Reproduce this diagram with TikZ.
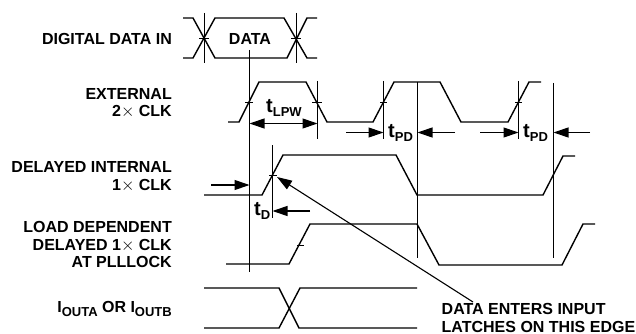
\documentclass[tikz,border=0pt]{standalone}
\usepackage{fontspec}
\setmainfont{Liberation Sans}
\usetikzlibrary{arrows.meta}

\tikzset{
    sig/.style={line width=1.4pt},
    mark line/.style={line width=1pt},
    dim/.style={line width=1.1pt,-{Triangle[length=15pt,width=10pt]}},
    lab/.style={font=\bfseries\fontsize{16}{17.3}\selectfont,align=right,anchor=east,inner sep=0pt},
    timing/.style={font=\bfseries\fontsize{20}{20}\selectfont,anchor=base west,inner sep=0pt},
}
\newcommand{\lowtext}[1]{\raisebox{-4pt}{\fontsize{13}{13}\selectfont #1}}

\begin{document}
\begin{tikzpicture}[x=1pt,y=-1pt]
    \useasboundingbox (0,0) rectangle (636,334);
    % data in
    \draw[sig] (183,18)--(193,18)--(215,58)--(287,58)--(307,18)--(317,18);
    \draw[sig] (183,58)--(193,58)--(215,18)--(284,18)--(307,58)--(317,58);
    \draw[mark line] (204,13)--(204,63);
    \draw[mark line] (296,13)--(296,63);
    \draw[mark line] (199,38.5)--(209,38.5);
    \draw[mark line] (291,38.5)--(301,38.5);
    % external clock
    \draw[sig] (228,122)--(239,122)--(259,82)--(306,82)--(327,122)--(373,122)--(394,82)--(440,82)--(461,122)--(508,122)--(529,82)--(541,82);
    \draw[mark line] (245,102.5)--(253,102.5);
    \draw[mark line] (312,102.5)--(322,102.5);
    \draw[mark line] (380,102.5)--(387,102.5);
    \draw[mark line] (515,103)--(522,103);
    % delayed internal clock
    \draw[sig] (204,195)--(262,195)--(283,155)--(396,155)--(417,195)--(543,195)--(563,156)--(575,156);
    \draw[mark line] (269,175.5)--(277,175.5);
    % load dependent clock
    \draw[sig] (226,264)--(289,264)--(310,224)--(417,224)--(439,265)--(562,265)--(583,224)--(595,224);
    \draw[mark line] (297,245.5)--(304,245.5);
    % output
    \draw[sig] (204,288)--(279,288)--(299,328)--(417,328);
    \draw[sig] (204,328)--(279,328)--(300,288)--(417,288);
    % verticals
    \draw[mark line] (249.5,50)--(249.5,272);
    \draw[mark line] (317.5,81)--(317.5,139);
    \draw[mark line] (383.5,81)--(383.5,139);
    \draw[mark line] (518.5,81)--(518.5,139);
    \draw[mark line] (417.5,82)--(417.5,258);
    \draw[mark line] (553.5,83)--(553.5,258);
    \draw[mark line] (272.5,145)--(272.5,218);
    % timing arrows
    \draw[dim,{Triangle[length=15pt,width=10pt]}-{Triangle[length=15pt,width=10pt]}] (249.5,123.5)--(317.5,123.5);
    \draw[dim] (346,132.5)--(383.5,132.5);
    \draw[dim] (455,132.5)--(417.5,132.5);
    \draw[dim] (480,132.5)--(518.5,132.5);
    \draw[dim] (590,132.5)--(553.5,132.5);
    \draw[dim] (211,185)--(249.5,185);
    \draw[dim] (310,211)--(272.5,211);
    % labels
    \node[lab] (datain) at (172,38.5) {DIGITAL DATA IN};
    \node[lab,anchor=center] (data) at (250,38.5) {DATA};
    \node[lab] (extclk) at (172,103.5) {EXTERNAL\\2$\times$ CLK};
    \node[lab] (intclk) at (172,176.7) {DELAYED INTERNAL\\1$\times$ CLK};
    \node[lab] (loadclk) at (172,244.5) {LOAD DEPENDENT\\DELAYED 1$\times$ CLK\\AT PLLLOCK};
    \node[lab,anchor=base east] (iout) at (172,312) {I\lowtext{OUTA} OR I\lowtext{OUTB}};
    \node[lab,anchor=north west,align=left] (enters) at (441.5,303.5) {DATA ENTERS INPUT\\LATCHES ON THIS EDGE};
    \coordinate (edge) at (277,177);
    \draw[line width=1.1pt,-{Triangle[length=15pt,width=10pt]}] (473,302)--(edge);
    \node[timing] (tlpw) at (266,113) {t\lowtext{LPW}};
    \node[timing] (tpda) at (388,137) {t\lowtext{PD}};
    \node[timing] (tpdb) at (523,137) {t\lowtext{PD}};
    \node[timing] (td) at (254,215) {t\lowtext{D}};
\end{tikzpicture}
\end{document}
